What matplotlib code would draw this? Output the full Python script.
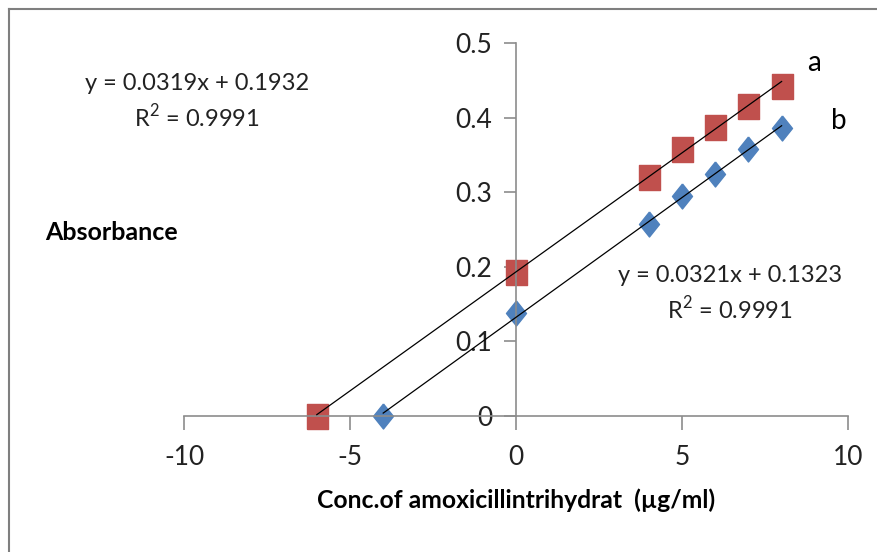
import matplotlib
matplotlib.use('Agg')
from matplotlib import pyplot as plt
from matplotlib.lines import Line2D

# datos
conc_a = [-6, 0, 4, 5, 6, 7, 8]
abs_a = [0.0, 0.193, 0.320, 0.358, 0.388, 0.415, 0.443]
conc_b = [-4, 0, 4, 5, 6, 7, 8]
abs_b = [0.0, 0.138, 0.258, 0.295, 0.325, 0.358, 0.386]

slope_a, icpt_a = 0.0319, 0.1932
slope_b, icpt_b = 0.0321, 0.1323
eq_a = 'y = 0.0319x + 0.1932\nR$^2$ = 0.9991'
eq_b = 'y = 0.0321x + 0.1323\nR$^2$ = 0.9991'

xticks = [-10, -5, 0, 5, 10]
yticks = [0, 0.1, 0.2, 0.3, 0.4, 0.5]

plt.rcParams['font.family'] = ['Lato', 'DejaVu Sans']
plt.rcParams['mathtext.fontset'] = 'custom'
plt.rcParams['mathtext.rm'] = 'Lato'

fig = plt.figure(figsize=(8.78, 5.52), dpi=100)
ax = fig.add_axes([184 / 878, 136 / 552, 664 / 878, 373 / 552])

# lineas de tendencia
xa = [min(conc_a), max(conc_a)]
xb = [min(conc_b), max(conc_b)]
ax.plot(xa, [slope_a * x + icpt_a for x in xa], color='black', lw=0.9, zorder=3)
ax.plot(xb, [slope_b * x + icpt_b for x in xb], color='black', lw=0.9, zorder=3)

square = [(-0.84, -1), (0.84, -1), (0.84, 1), (-0.84, 1), (-0.84, -1)]
diamond = [(0, 1), (0.8, 0), (0, -1), (-0.8, 0), (0, 1)]
ax.plot(conc_a, abs_a, ls='none', marker=square, ms=18, color='#C0504D',
        zorder=2, clip_on=False)
ax.plot(conc_b, abs_b, ls='none', marker=diamond, ms=18, color='#4F81BD',
        zorder=2, clip_on=False)

ax.set_xlim(-10, 10)
ax.set_ylim(0, 0.5)
ax.set_xticks(xticks)
ax.set_yticks(yticks)
ax.set_xticklabels([str(t) for t in xticks])
ax.set_yticklabels(['0', '0.1', '0.2', '0.3', '0.4', '0.5'])

for s in ['top', 'right']:
    ax.spines[s].set_visible(False)
ax.spines['left'].set_position(('data', 0))
ax.spines['bottom'].set_position(('data', 0))
for s in ['left', 'bottom']:
    ax.spines[s].set_color('#8c8c8c')
    ax.spines[s].set_linewidth(1.2)
ax.tick_params(axis='x', direction='out', length=10, width=1.2, color='#8c8c8c',
               labelsize=19, pad=11, labelcolor='#222222')
ax.tick_params(axis='y', direction='out', length=9, width=1.2, color='#8c8c8c',
               labelsize=19, pad=8, labelcolor='#222222')

# textos
fig.text(197 / 878, 1 - 102 / 552, eq_a, ha='center', va='center', fontsize=17,
         linespacing=1.35, color='#222222')
fig.text(730 / 878, 1 - 294 / 552, eq_b, ha='center', va='center', fontsize=17,
         linespacing=1.35, color='#222222')
fig.text(814 / 878, 1 - 63 / 552, 'a', ha='center', va='center', fontsize=20)
fig.text(839 / 878, 1 - 121 / 552, 'b', ha='center', va='center', fontsize=20)
fig.text(45 / 878, 1 - 233 / 552, 'Absorbance', ha='left', va='center',
         fontsize=18, fontweight='bold')
fig.text(516 / 878, 1 - 500 / 552, 'Conc.of amoxicillintrihydrat  (µg/ml)',
         ha='center', va='center', fontsize=17.8, fontweight='bold')

# marco exterior (solo izquierda y arriba visibles)
fig.add_artist(Line2D([9 / 878, 9 / 878], [0, 1 - 9 / 552], color='#7f7f7f', lw=1.5))
fig.add_artist(Line2D([9 / 878, 1], [1 - 9 / 552, 1 - 9 / 552], color='#7f7f7f', lw=1.5))

fig.savefig('out.png', dpi=100)
